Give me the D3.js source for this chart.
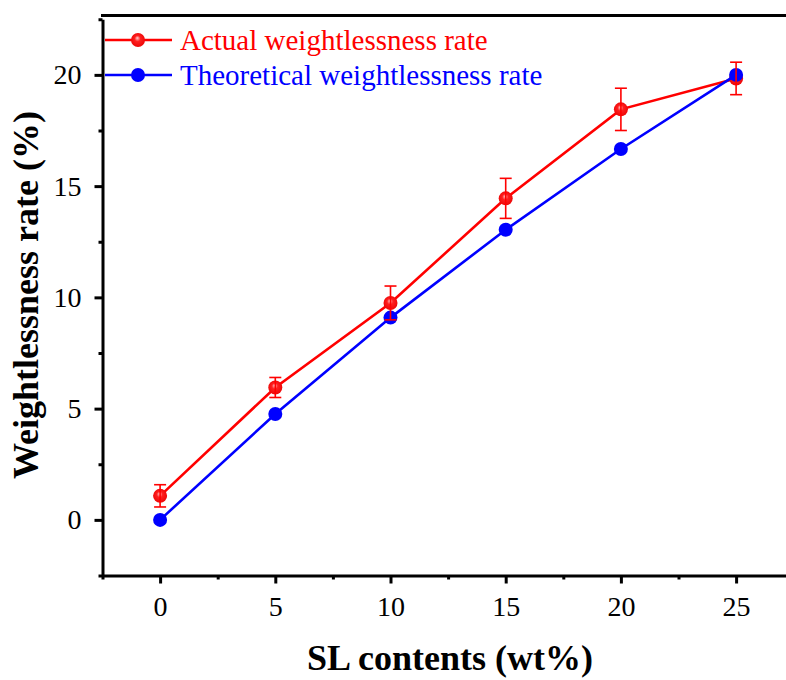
<!DOCTYPE html>
<html>
<head>
<meta charset="utf-8">
<script src="https://cdn.jsdelivr.net/npm/d3@7/dist/d3.min.js"></script>
</head>
<body style="margin:0;padding:0;background:#fff">
<svg id="chart" width="786" height="680" style="display:block"></svg>
<script>
// SL content (wt%)
const contents = [0, 5, 10, 15, 20, 25];
// Measured weight loss (%) and its standard deviation
const actualRate = [1.08, 5.95, 9.75, 14.45, 18.45, 19.84];
const actualErr = [0.5, 0.45, 0.76, 0.9, 0.95, 0.73];
// Theoretical weight loss (%)
const theoreticalRate = [0, 4.76, 9.09, 13.04, 16.67, 20.0];
const xTicks = [0, 5, 10, 15, 20, 25];
const yTicks = [0, 5, 10, 15, 20];

const FONT = "Liberation Serif";
const svg = d3.select("#chart");
const plotLeft = 102.5, plotTop = 15.5, plotBottom = 575.5;

const x = d3.scaleLinear().domain([-2.5, 27.5]).range([plotLeft, plotLeft + 30 * 23.04]);
const y = d3.scaleLinear().domain([-2.5, 22.5]).range([plotBottom, plotBottom - 25 * 22.25]);

const red = "#ff0000", blue = "#0000ff";

// Gradient for the shaded red markers
const defs = svg.append("defs");
const grad = defs.append("radialGradient").attr("id", "redBall")
  .attr("cx", "0.5").attr("cy", "0.5").attr("r", "0.6")
  .attr("fx", "0.45").attr("fy", "0.35");
grad.append("stop").attr("offset", "0").attr("stop-color", "#ffd0d0");
grad.append("stop").attr("offset", "0.35").attr("stop-color", "#ff2020");
grad.append("stop").attr("offset", "1").attr("stop-color", "#e80000");

// Axes with outward ticks, minor ticks halfway between
svg.append("g").attr("transform", `translate(0,${plotBottom})`)
  .call(d3.axisBottom(x).tickValues(xTicks).tickSize(8).tickSizeOuter(0).tickPadding(13));
svg.append("g").attr("transform", `translate(0,${plotBottom})`)
  .call(d3.axisBottom(x).tickValues([-2.5, 2.5, 7.5, 12.5, 17.5, 22.5, 27.5]).tickSize(4).tickFormat(""))
  .call(g => g.select(".domain").remove());

svg.append("g").attr("transform", `translate(${plotLeft},0)`)
  .call(d3.axisLeft(y).tickValues(yTicks).tickSize(8).tickSizeOuter(0).tickPadding(13));
svg.append("g").attr("transform", `translate(${plotLeft},0)`)
  .call(d3.axisLeft(y).tickValues([-2.5, 2.5, 7.5, 12.5, 17.5, 22.5]).tickSize(4).tickFormat(""))
  .call(g => g.select(".domain").remove());

svg.selectAll("g").filter(function () { return this.hasAttribute("font-family"); })
  .attr("font-family", FONT).attr("font-size", 28);
svg.selectAll(".domain").attr("stroke", "#000").attr("stroke-width", 3);
svg.selectAll(".tick line").attr("stroke", "#000").attr("stroke-width", 3);
svg.selectAll(".tick text").attr("fill", "#000")
  .attr("font-family", FONT).attr("font-size", 28);

// Top and right frame lines
svg.append("line").attr("x1", plotLeft - 1.5).attr("x2", x(27.5) + 1.5)
  .attr("y1", plotTop).attr("y2", plotTop).attr("stroke", "#000").attr("stroke-width", 3);
svg.append("line").attr("x1", x(27.5)).attr("x2", x(27.5))
  .attr("y1", plotTop).attr("y2", plotBottom).attr("stroke", "#000").attr("stroke-width", 3);

// Axis titles
svg.append("text").attr("x", 450).attr("y", 670).attr("text-anchor", "middle")
  .attr("font-family", FONT).attr("font-size", 36).attr("font-weight", "bold")
  .text("SL contents (wt%)");
svg.append("text").attr("transform", "translate(38,295) rotate(-90)").attr("text-anchor", "middle")
  .attr("font-family", FONT).attr("font-size", 36).attr("font-weight", "bold")
  .text("Weightlessness rate (%)");

const line = d3.line().x(d => x(d[0])).y(d => y(d[1]));
const actualPts = contents.map((c, i) => [c, actualRate[i]]);
const theoPts = contents.map((c, i) => [c, theoreticalRate[i]]);

// Actual series
svg.append("path").datum(actualPts).attr("d", line)
  .attr("fill", "none").attr("stroke", red).attr("stroke-width", 2.6);
svg.append("g").selectAll("circle").data(actualPts).join("circle")
  .attr("cx", d => x(d[0])).attr("cy", d => y(d[1])).attr("r", 7)
  .attr("fill", "url(#redBall)");

// Theoretical series
svg.append("path").datum(theoPts).attr("d", line)
  .attr("fill", "none").attr("stroke", blue).attr("stroke-width", 2.6);
svg.append("g").selectAll("circle").data(theoPts).join("circle")
  .attr("cx", d => x(d[0])).attr("cy", d => y(d[1])).attr("r", 7)
  .attr("fill", blue);

// Error bars on the measured values
const eb = svg.append("g").attr("stroke", red).attr("stroke-width", 1.6);
contents.forEach((c, i) => {
  const cx = x(c), y1 = y(actualRate[i] + actualErr[i]), y2 = y(actualRate[i] - actualErr[i]);
  eb.append("line").attr("x1", cx).attr("x2", cx).attr("y1", y1).attr("y2", y2);
  eb.append("line").attr("x1", cx - 6).attr("x2", cx + 6).attr("y1", y1).attr("y2", y1);
  eb.append("line").attr("x1", cx - 6).attr("x2", cx + 6).attr("y1", y2).attr("y2", y2);
});

// Legend
const legend = [
  { label: "Actual weightlessness rate", color: red, fill: "url(#redBall)", y: 40 },
  { label: "Theoretical weightlessness rate", color: blue, fill: blue, y: 75 }
];
const lg = svg.append("g");
legend.forEach(d => {
  lg.append("line").attr("x1", 105).attr("x2", 172).attr("y1", d.y).attr("y2", d.y)
    .attr("stroke", d.color).attr("stroke-width", 2.6);
  lg.append("circle").attr("cx", 138).attr("cy", d.y).attr("r", 7).attr("fill", d.fill);
  lg.append("text").attr("x", 180).attr("y", d.y + 10).attr("fill", d.color)
    .attr("font-family", FONT).attr("font-size", 29).text(d.label);
});
</script>
</body>
</html>
